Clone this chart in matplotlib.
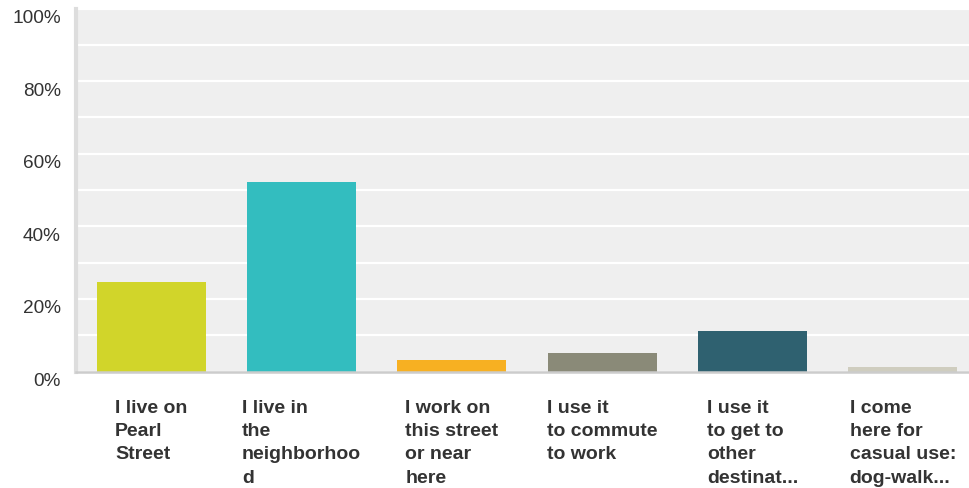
import matplotlib
matplotlib.use("Agg")
import matplotlib.pyplot as plt
import matplotlib.transforms as mtransforms
import numpy as np

categories = [
    "I live on\nPearl\nStreet",
    "I live in\nthe\nneighborhoo\nd",
    "I work on\nthis street\nor near\nhere",
    "I use it\nto commute\nto work",
    "I use it\nto get to\nother\ndestinat...",
    "I come\nhere for\ncasual use:\ndog-walk...",
]
values = [24.7, 52.2, 3.2, 5.1, 11.2, 1.2]
colors = ["#d1d52a", "#33bdbf", "#f7b022", "#8a8a78", "#2f6170", "#cfcdbf"]
ytick_vals = [0, 20, 40, 60, 80, 100]
ytick_labels = ["0%", "20%", "40%", "60%", "80%", "100%"]

plt.rcParams['font.family'] = ['Liberation Sans', 'DejaVu Sans']

fig = plt.figure(figsize=(9.69, 4.89), dpi=100)
W, H = 969, 489
left, right = 76, 978
top, bottom = 9.5, 372.5
ax = fig.add_axes([left / W, (H - bottom) / H, (right - left) / W, (bottom - top) / H])
ax.set_facecolor("#efefef")

x = np.arange(len(categories))
ax.bar(x, values, width=0.725, color=colors, zorder=3)

ax.set_xlim(-0.5, len(categories) - 0.5)
ax.set_ylim(0, 100)
ax.set_yticks(ytick_vals)
ax.set_yticklabels(ytick_labels, fontsize=13.7, color="#333333")
ax.set_yticks(np.arange(10, 100, 20), minor=True)
ax.grid(True, axis="y", which="both", color="white", linewidth=1.6, zorder=1)
ax.tick_params(axis="y", which="both", length=0, pad=11)
offset = mtransforms.ScaledTranslation(0, -7 / 100, fig.dpi_scale_trans)
for lbl in ax.get_yticklabels():
    lbl.set_transform(lbl.get_transform() + offset)

ax.set_xticks(x)
ax.set_xticklabels(categories, fontsize=14, fontweight="bold", color="#333333",
                   ha="center", multialignment="left", linespacing=1.47)
ax.tick_params(axis="x", length=0, pad=20)

for s in ["top", "right"]:
    ax.spines[s].set_visible(False)
ax.spines["left"].set_color("#dddddd")
ax.spines["left"].set_linewidth(3)
ax.spines["bottom"].set_color("#cccccc")
ax.spines["bottom"].set_linewidth(1.8)
ax.spines["bottom"].set_zorder(4)

fig.savefig("out.png", dpi=100)
